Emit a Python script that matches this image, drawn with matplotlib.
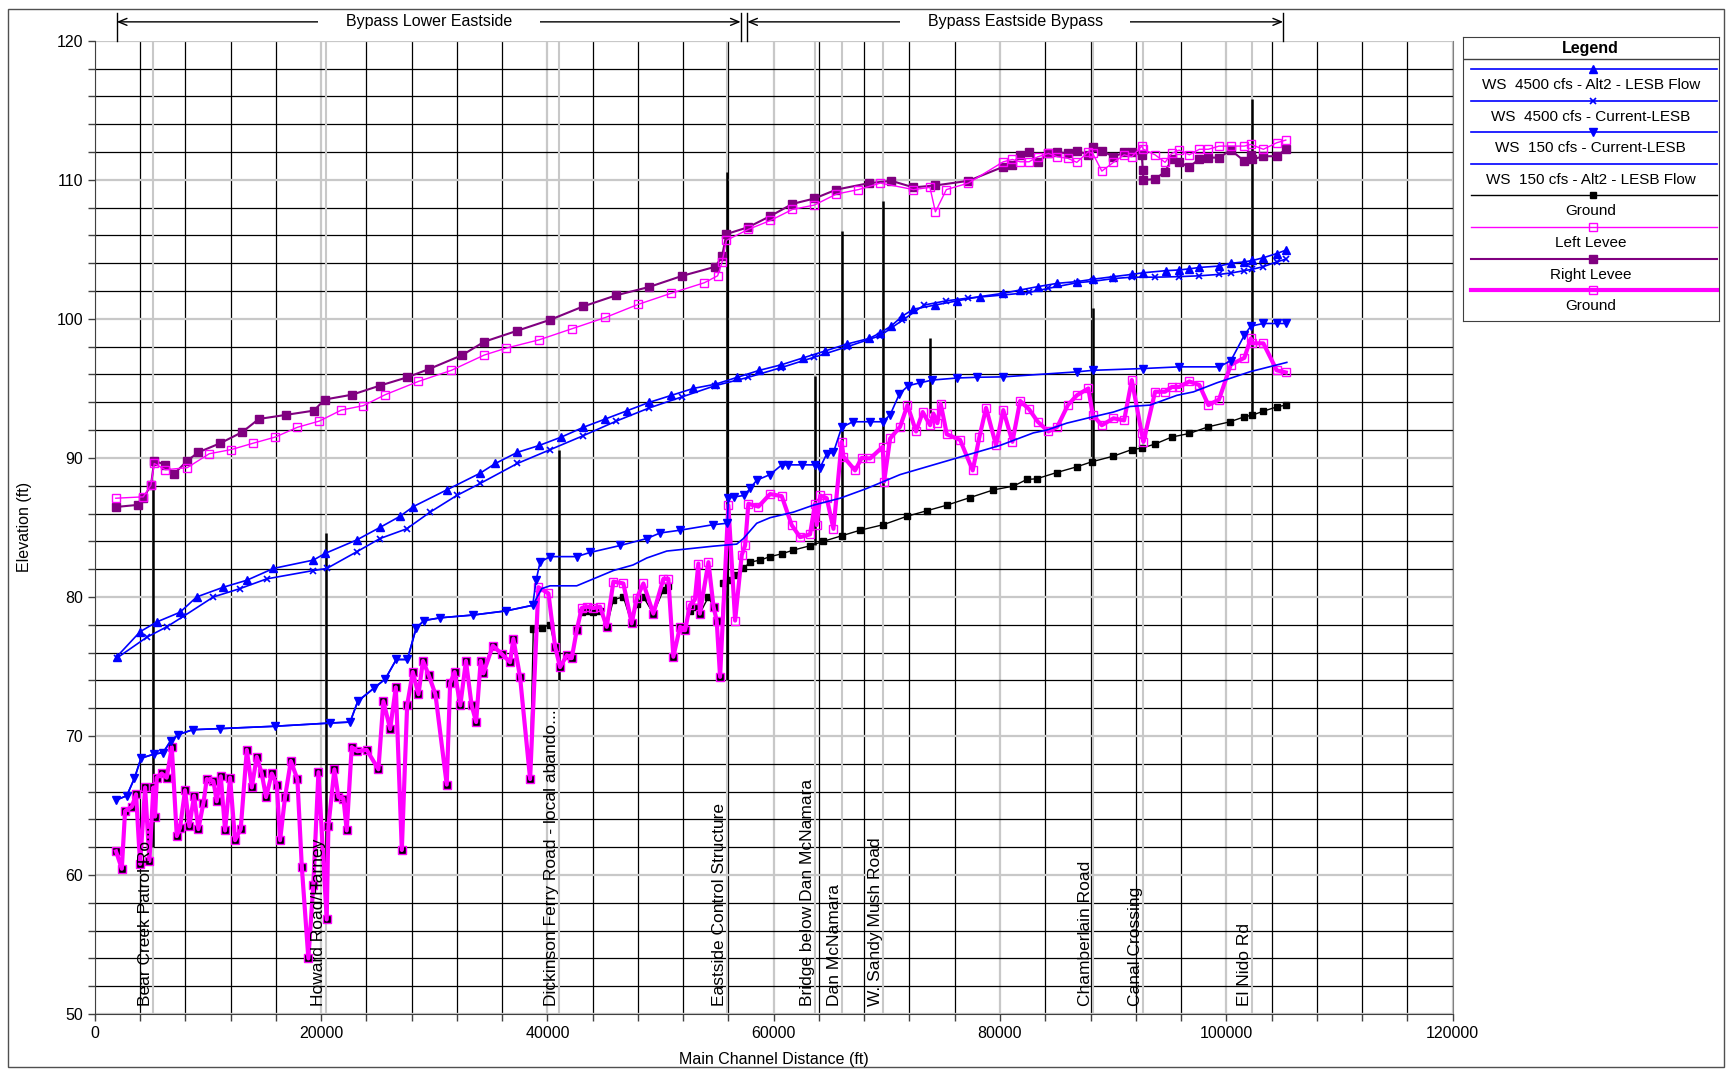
import matplotlib
matplotlib.use("Agg")
import matplotlib.pyplot as plt
from matplotlib.patches import Rectangle
import numpy as np

plt.rcParams['font.family'] = ['Liberation Sans', 'DejaVu Sans']

# ---- data (main channel distance ft, elevation ft) ----
ws4500_alt_x = [1940, 4000, 5470, 7530, 9000, 11360, 13430, 15780, 19310, 20350, 23150, 25200,
                26970, 28150, 31100, 34050, 35400, 37340, 39290, 41230, 43170, 45120, 47060,
                49010, 50960, 52900, 54840, 56790, 58730, 60680, 62620, 64570, 66510, 68460,
                69430, 70400, 71370, 72350, 74290, 76240, 78190, 80290, 81780, 83340, 85070,
                86790, 88200, 90030, 91650, 92680, 94680, 95830, 96740, 97620, 99360, 100400,
                101600, 102310, 103280, 104460, 105260]
ws4500_alt_y = [75.7, 77.5, 78.2, 78.9, 80.0, 80.7, 81.2, 82.05, 82.65, 83.13, 84.1, 85.0,
                85.8, 86.5, 87.7, 88.9, 89.6, 90.4, 90.9, 91.5, 92.2, 92.8, 93.4,
                94.0, 94.5, 95.0, 95.3, 95.8, 96.3, 96.7, 97.2, 97.7, 98.2, 98.6,
                99.0, 99.5, 100.2, 100.7, 101.0, 101.3, 101.6, 101.84, 102.08, 102.32, 102.56,
                102.68, 102.85, 103.04, 103.2, 103.32, 103.47, 103.52, 103.6, 103.7, 103.8, 104.0,
                104.1, 104.2, 104.4, 104.7, 104.94]

ws4500_cur_x = [1940, 4590, 6350, 7820, 10480, 12830, 15190, 19310, 20500, 23150, 25200, 27560,
                29630, 31990, 34050, 37340, 40260, 43170, 46090, 49010, 51930, 54840, 57760,
                60680, 63600, 66510, 69430, 71370, 73310, 75260, 77210, 80290, 82570, 84280,
                86790, 88200, 90030, 91650, 93710, 95830, 97620, 99360, 100400, 101600, 102310,
                103280, 104460, 105260]
ws4500_cur_y = [75.6, 77.1, 77.85, 78.6, 80.0, 80.6, 81.3, 81.9, 82.05, 83.25, 84.2, 84.9,
                86.1, 87.3, 88.16, 89.6, 90.6, 91.6, 92.65, 93.6, 94.4, 95.2, 95.8,
                96.5, 97.25, 98.0, 98.8, 99.9, 101.0, 101.3, 101.5, 101.72, 101.9, 102.2,
                102.6, 102.7, 102.9, 103.0, 103.0, 103.04, 103.1, 103.2, 103.3, 103.47, 103.57,
                103.76, 104.1, 104.3]

# 150 cfs: both plans identical up to ~38700 ft
ws150_low_x = [1850, 2820, 3500, 4080, 5250, 6030, 6710, 7390, 8650, 11090, 15950, 20810,
               22560, 23240, 24700, 25670, 26640, 27620, 28390, 29080, 30530, 33450, 36370, 38700]
ws150_low_y = [65.38, 65.7, 66.96, 68.4, 68.7, 68.8, 69.66, 70.1, 70.45, 70.53, 70.7, 70.93,
               71.0, 72.5, 73.46, 74.1, 75.5, 75.5, 77.74, 78.3, 78.5, 78.7, 79.0, 79.4]
ws150_cur_up_x = [39000, 39350, 40230, 42590, 43770, 46430, 48780, 49960, 51720, 54670, 55900,
                  55990, 56500, 57400, 57910, 58500, 59680, 60710, 61300, 62500, 63650, 64100,
                  64690, 65280, 66010, 67000, 68500, 69640, 70290, 71110, 71900, 72930, 74000,
                  76240, 78000, 80290, 86790, 88200, 92680, 95830, 99360, 100400, 101600,
                  102170, 103280, 104460, 105260]
ws150_cur_up_y = [81.2, 82.5, 82.9, 82.9, 83.2, 83.7, 84.2, 84.6, 84.8, 85.2, 85.3,
                  87.1, 87.2, 87.3, 87.8, 88.4, 88.8, 89.5, 89.5, 89.5, 89.5, 89.3,
                  90.3, 90.4, 92.2, 92.6, 92.6, 92.6, 93.1, 94.6, 95.2, 95.4, 95.6,
                  95.75, 95.8, 95.83, 96.19, 96.3, 96.43, 96.55, 96.55, 96.99, 98.83,
                  99.48, 99.67, 99.67, 99.67]
ws150_alt_up_x = [39500, 40230, 42590, 43770, 45830, 47570, 48780, 50550, 52900, 54650, 56730,
                  57320, 58500, 59680, 61740, 63500, 65870, 68220, 71170, 74110, 77060, 80010,
                  82950, 84130, 85900, 87670, 90030, 91500, 93270, 95630, 97100, 99160, 100630,
                  102100, 105350]
ws150_alt_up_y = [80.6, 80.8, 80.8, 81.2, 81.9, 82.3, 82.8, 83.3, 83.5, 83.65, 83.8,
                  84.2, 85.3, 85.7, 86.1, 86.6, 87.1, 87.8, 88.8, 89.5, 90.2, 90.9,
                  91.8, 92.0, 92.5, 92.85, 93.3, 93.7, 93.8, 94.5, 94.75, 95.4, 95.8,
                  96.2, 96.87]

# ground: both plans identical up to ~38500 ft
gnd_low_x = [1870, 2380, 2670, 3260, 3640, 4000, 4440, 4820, 5170, 5320, 5470, 5910, 6350,
             6800, 7240, 7530, 7970, 8350, 8770, 9150, 9600, 9890, 10480, 10770, 11130, 11510,
             11950, 12390, 12890, 13430, 13870, 14310, 14750, 15130, 15640, 16080, 16370,
             16810, 17320, 17900, 18290, 18870, 19310, 19760, 20490, 20640, 21170, 21520,
             21970, 22260, 22700, 23200, 24030, 25060, 25500, 26100, 26600, 27130, 27600,
             28100, 28600, 29000, 29500, 30100, 31100, 31400, 31800, 32300, 32800, 33300,
             33700, 34100, 34340, 35170, 35960, 36700, 36990, 37580, 38470]
gnd_low_y = [61.7, 60.45, 64.6, 64.9, 65.8, 60.8, 66.3, 61.0, 66.3, 64.2, 67.0, 67.3, 67.0,
             69.2, 62.8, 63.4, 66.1, 63.5, 65.7, 63.3, 65.2, 66.9, 66.75, 65.3, 67.1, 63.2,
             67.0, 62.5, 63.3, 69.0, 66.3, 68.5, 67.3, 65.6, 67.3, 66.5, 62.5,
             65.6, 68.2, 66.9, 60.6, 54.0, 59.3, 67.4, 56.8, 63.5, 67.6, 65.6,
             65.5, 63.2, 69.2, 68.9, 69.0, 67.6, 72.5, 70.5, 73.5, 61.8, 72.2,
             74.6, 73.0, 75.4, 74.4, 73.0, 66.5, 73.8, 74.6, 72.2, 75.4, 72.2,
             71.0, 75.4, 74.5, 76.5, 75.9, 75.3, 77.0, 74.25, 66.9]
gnd_cur_up_x = [39200, 40090, 40680, 41120, 41710, 42150, 42590, 43030, 43530, 44060, 44650,
                45240, 45830, 46710, 47450, 47890, 48480, 49360, 50250, 50690, 51130, 51720,
                52170, 52590, 53030, 53340, 53470, 54230, 54680, 54960, 55260, 55990, 56590,
                57170, 57470, 57760, 58650, 59680, 60710, 61590, 62330, 63210, 63650, 63800,
                64120, 64690, 65280, 66010, 66160, 67190, 67780, 68520, 69640, 69760, 70290,
                71170, 71820, 72580, 73170, 73820, 74110, 74470, 74760, 75300, 76470, 77590,
                78180, 78770, 79650, 80290, 81100, 81780, 82570, 83340, 84280, 85070, 86000,
                86790, 87810, 88200, 89000, 90030, 90970, 91650, 92530, 92680, 93710, 94590,
                95180, 95830, 96740, 97620, 98420, 99360, 100400, 101600, 102170, 102310,
                103280, 104460, 105260]
gnd_cur_up_y = [80.7, 80.25, 76.4, 74.95, 75.8, 75.6, 77.6, 79.2, 79.3, 79.2, 79.3,
                77.85, 81.1, 80.97, 78.1, 79.9, 80.97, 78.8, 81.3, 81.3, 75.7, 77.85,
                77.6, 79.4, 79.8, 82.4, 78.8, 82.5, 79.3, 78.3, 74.25, 86.6, 78.3,
                83.0, 83.7, 86.7, 86.5, 87.4, 87.25, 85.17, 84.3, 84.5, 86.7, 85.17,
                87.3, 87.1, 84.9, 91.16, 90.1, 89.1, 90.0, 89.96, 90.8, 88.3, 91.4,
                92.24, 93.8, 91.9, 93.3, 92.35, 93.2, 92.5, 93.9, 91.7, 91.3, 89.1,
                91.5, 93.6, 90.9, 93.44, 91.16, 94.1, 93.5, 92.6, 91.9, 92.24, 93.8,
                94.5, 95.0, 93.08, 92.35, 92.85, 92.7, 95.6, 91.76, 91.16, 94.76, 94.76,
                95.1, 95.1, 95.5, 95.24, 93.8, 94.2, 96.7, 97.2, 98.6, 98.24,
                98.24, 96.3, 96.15]
gnd_alt_up_x = [38750, 39500, 40230, 40680, 41120, 41710, 42150, 42590, 43030, 43530, 44060,
                44650, 45240, 45830, 46710, 47450, 47890, 48480, 49360, 50250, 50690, 51130,
                51720, 52170, 52590, 53030, 53470, 54230, 54680, 54960, 55260, 55550, 56000,
                56590, 57320, 57910, 58800, 59680, 60710, 61740, 63210, 64390, 66010, 67640,
                69700, 71770, 73530, 75300, 77360, 79420, 81180, 82370, 83250, 85020, 86790,
                88110, 90030, 91650, 92530, 93710, 95180, 96740, 98420, 100340, 101600,
                102310, 103280, 104460, 105260]
gnd_alt_up_y = [77.7, 77.8, 78.0, 76.4, 74.95, 75.8, 75.6, 77.6, 78.9, 79.0, 78.9,
                79.0, 77.85, 79.8, 80.0, 78.1, 79.5, 80.0, 78.8, 80.5, 80.8, 75.7,
                77.85, 77.6, 79.0, 79.3, 78.8, 80.0, 79.3, 78.3, 74.25, 81.0, 81.2,
                81.6, 82.05, 82.5, 82.65, 82.9, 83.1, 83.37, 83.68, 84.0, 84.4, 84.8,
                85.2, 85.8, 86.2, 86.6, 87.15, 87.7, 87.97, 88.45, 88.5, 88.95, 89.36,
                89.72, 90.13, 90.6, 90.7, 91.0, 91.5, 91.76, 92.24, 92.6, 92.96,
                93.08, 93.36, 93.67, 93.8]

lev_left_x = [1850, 4280, 4960, 5250, 6220, 8170, 10110, 12060, 14000, 15950, 17890, 19840,
              21780, 23730, 25670, 28590, 31510, 34420, 36370, 39290, 42200, 45120, 48040,
              50960, 53870, 55040, 55430, 55820, 57760, 59710, 61650, 63600, 65540, 67490,
              69430, 72350, 73810, 74290, 75260, 77210, 80290, 81100, 81780, 82570, 83340,
              84280, 85070, 86000, 86790, 87810, 88200, 89000, 90030, 90970, 91650, 92530,
              92680, 93710, 94590, 95180, 95830, 96740, 97620, 98420, 99360, 100400, 101600,
              102170, 103280, 104460, 105260]
lev_left_y = [87.1, 87.2, 88.05, 89.6, 89.15, 89.3, 90.3, 90.6, 91.06, 91.5, 92.2, 92.65,
              93.44, 93.76, 94.55, 95.5, 96.3, 97.4, 97.9, 98.5, 99.3, 100.1, 101.05,
              101.85, 102.6, 103.1, 104.06, 105.65, 106.44, 107.08, 107.87, 108.19, 108.98, 109.3,
              109.77, 109.3, 109.46, 107.7, 109.3, 109.77, 111.3, 111.47, 111.3, 111.3, 111.66,
              111.9, 111.66, 111.55, 111.26, 112.02, 111.9, 110.63, 111.26, 111.8, 111.66, 112.43,
              112.2, 111.8, 111.26, 111.9, 112.14, 111.8, 112.2, 112.2, 112.43, 112.43, 112.43,
              112.55, 112.2, 112.67, 112.86]

lev_right_x = [1850, 3790, 4280, 4960, 5250, 6220, 7000, 8170, 9140, 11090, 13030, 14490,
               16920, 19350, 20320, 22750, 25190, 27620, 29560, 32480, 34420, 37340, 40260,
               43170, 46090, 49010, 51930, 54840, 55430, 55820, 57760, 59710, 61650, 63600,
               65540, 68460, 70400, 72350, 74290, 77210, 80290, 81100, 81780, 82570, 83340,
               84280, 85070, 86000, 86790, 87810, 88200, 89000, 90030, 90970, 91650, 92530,
               92620, 92680, 93710, 94590, 95180, 95830, 96740, 97620, 98420, 99360, 100400,
               101600, 102170, 102310, 103280, 104460, 105260]
lev_right_y = [86.47, 86.62, 87.1, 88.05, 89.8, 89.5, 88.85, 89.8, 90.4, 91.06, 91.86, 92.8,
               93.1, 93.4, 94.2, 94.55, 95.2, 95.8, 96.4, 97.4, 98.36, 99.15, 99.94,
               100.9, 101.7, 102.3, 103.1, 103.75, 104.5, 106.1, 106.6, 107.4, 108.27, 108.66,
               109.3, 109.77, 109.93, 109.46, 109.6, 109.93, 110.94, 111.06, 111.8, 111.98, 111.26,
               111.9, 112.0, 111.9, 112.1, 111.8, 112.34, 112.1, 111.66, 111.98, 111.98, 111.8,
               110.7, 109.99, 110.06, 110.58, 111.5, 111.26, 110.94, 111.5, 111.6, 111.6, 112.14,
               111.35, 111.78, 111.47, 111.7, 111.7, 112.2]

# structures: station, invert, top, label
struct_x = [5180, 20440, 41000, 55900, 63650, 66010, 69650, 88200, 92600, 102310]
struct_lo = [62.0, 56.8, 74.0, 74.0, 83.7, 84.45, 85.3, 89.7, None, 93.1]
struct_hi = [87.9, 84.6, 90.6, 110.6, 95.9, 106.3, 108.5, 100.8, None, 115.8]
struct_lbl = ["Bear Creek Patrol Ro...", "Howard Road/Harney",
              "Dickinson Ferry Road - local abando...", "Eastside Control Structure",
              "Bridge below Dan McNamara", "Dan McNamara", "W. Sandy Mush Road",
              "Chamberlain Road", "Canal Crossing", "El Nido Rd"]
extra_x, extra_lo, extra_hi = 73820, 93.2, 98.6

reach_names = ["Bypass Lower Eastside", "Bypass Eastside Bypass"]
reach_start = [1940, 57660]
reach_end = [57080, 105020]

legend_labels = ["WS  4500 cfs - Alt2 - LESB Flow", "WS  4500 cfs - Current-LESB",
                 "WS  150 cfs - Current-LESB", "WS  150 cfs - Alt2 - LESB Flow",
                 "Ground", "Left Levee", "Right Levee", "Ground"]

BLUE = '#0000ff'
MAG = '#ff00ff'
PURP = '#800080'

fig = plt.figure(figsize=(17.28, 10.72), dpi=100)
ax = fig.add_axes([0.0549, 0.0541, 0.7857, 0.9078])

ax.set_xlim(0, 120000)
ax.set_ylim(50, 120)
ax.set_xticks(np.arange(0, 120001, 20000))
ax.set_xticks(np.arange(0, 120001, 4000), minor=True)
ax.set_yticks(np.arange(50, 121, 10))
ax.set_yticks(np.arange(50, 121, 2), minor=True)
ax.grid(which='minor', color='black', lw=0.9, zorder=0)
ax.grid(which='major', color='#c8c8c8', lw=1.6, zorder=0)
ax.set_axisbelow(True)
ax.tick_params(which='both', direction='out', length=5, width=1, top=False, right=False,
               labelsize=11.5, color='#404040')
ax.spines['top'].set_visible(False)
ax.spines['right'].set_color('#808080')
ax.spines['left'].set_color('#404040')
ax.spines['bottom'].set_color('#404040')

# station label lines and structures
for x in struct_x:
    ax.axvline(x, color='#c8c8c8', lw=1.5, zorder=1)
for x, lo, hi in zip(struct_x, struct_lo, struct_hi):
    if lo is not None:
        ax.vlines(x, lo, hi, color='black', lw=1.8, zorder=2.5)
ax.vlines(extra_x, extra_lo, extra_hi, color='black', lw=1.8, zorder=2.5)
for x, t in zip(struct_x, struct_lbl):
    ax.text(x, 50.6, t, rotation=90, ha='right', va='bottom', fontsize=12.5, zorder=7)

# series
ws150_alt_x = ws150_low_x + ws150_alt_up_x
ws150_alt_y = ws150_low_y + ws150_alt_up_y
ws150_cur_x = ws150_low_x + ws150_cur_up_x
ws150_cur_y = ws150_low_y + ws150_cur_up_y
gnd_alt_x = gnd_low_x + gnd_alt_up_x
gnd_alt_y = gnd_low_y + gnd_alt_up_y
gnd_cur_x = gnd_low_x + gnd_cur_up_x
gnd_cur_y = gnd_low_y + gnd_cur_up_y

ax.plot(gnd_alt_x, gnd_alt_y, color='black', lw=1, marker='s', ms=5, zorder=3)
ax.plot(gnd_cur_x, gnd_cur_y, color=MAG, lw=3, marker='s', ms=6, mfc='none', mec=MAG,
        mew=1, zorder=4)
ax.plot(lev_right_x, lev_right_y, color=PURP, lw=1.5, marker='s', ms=6, zorder=4)
ax.plot(lev_left_x, lev_left_y, color=MAG, lw=1, marker='s', ms=6, mfc='none', zorder=4)
ax.plot(ws150_alt_x, ws150_alt_y, color=BLUE, lw=1.2, zorder=5)
ax.plot(ws150_cur_x, ws150_cur_y, color=BLUE, lw=1.2, marker='v', ms=6, zorder=5)
ax.plot(ws4500_cur_x, ws4500_cur_y, color=BLUE, lw=1.2, marker='x', ms=5, mew=1.2, zorder=5)
ax.plot(ws4500_alt_x, ws4500_alt_y, color=BLUE, lw=1.2, marker='^', ms=6, zorder=5)

# reach annotations above the plot
trans = ax.get_xaxis_transform()
for name, x0, x1 in zip(reach_names, reach_start, reach_end):
    for x in (x0, x1):
        ax.plot([x, x], [1.0, 1.029], transform=trans, color='black', lw=1, clip_on=False)
    ax.annotate('', xy=(x1, 1.0195), xytext=(x0, 1.0195), xycoords=trans, textcoords=trans,
                arrowprops=dict(arrowstyle='<->,head_length=0.6,head_width=0.25', lw=1,
                                color='black', shrinkA=0, shrinkB=0))
    ax.text((x0 + x1) / 2, 1.0195, '      ' + name + '      ', transform=trans, ha='center',
            va='center', fontsize=11.5, bbox=dict(fc='white', ec='none', pad=0.5))

fig.text(0.0139, 0.508, 'Elevation (ft)', rotation=90, ha='center', va='center', fontsize=11.5)
fig.text(0.4477, 0.0112, 'Main Channel Distance (ft)', ha='center', va='center', fontsize=11.5)

# hand-drawn legend box in the HEC-RAS style
lax = fig.add_axes([0.8465, 0.7006, 0.1483, 0.2652])
lax.set_xlim(0, 256.3)
lax.set_ylim(284.3, 0)
lax.set_xticks([])
lax.set_yticks([])
for s in lax.spines.values():
    s.set_color('#404040')
lax.text(128, 11.6, 'Legend', ha='center', va='center', fontsize=11.5, fontweight='bold')
lax.plot([0, 256.3], [22.6, 22.6], color='#404040', lw=1)
styles = [dict(color=BLUE, lw=1.2, marker='^', ms=6),
          dict(color=BLUE, lw=1.2, marker='x', ms=5, mew=1.2),
          dict(color=BLUE, lw=1.2, marker='v', ms=6),
          dict(color=BLUE, lw=1.2),
          dict(color='black', lw=1, marker='s', ms=5),
          dict(color=MAG, lw=1, marker='s', ms=6, mfc='none'),
          dict(color=PURP, lw=1.5, marker='s', ms=6),
          dict(color=MAG, lw=3, marker='s', ms=6, mfc='none', mew=1)]
for i, (lbl, st) in enumerate(zip(legend_labels, styles)):
    yl = 32.3 + 31.6 * i
    lax.plot([8, 254], [yl, yl], color=st['color'], lw=st['lw'])
    if 'marker' in st:
        lax.plot([130.3], [yl], ls='none', color=st['color'], marker=st['marker'], ms=st['ms'],
                 mfc=st.get('mfc', st['color']), mew=st.get('mew', 1))
    lax.text(128, yl + 16, lbl, ha='center', va='center', fontsize=11)

fig.add_artist(Rectangle((0.0046, 0.0047), 0.9931, 0.9869, transform=fig.transFigure,
                         fill=False, ec='#505050', lw=1))

fig.savefig('out.png', dpi=100)
